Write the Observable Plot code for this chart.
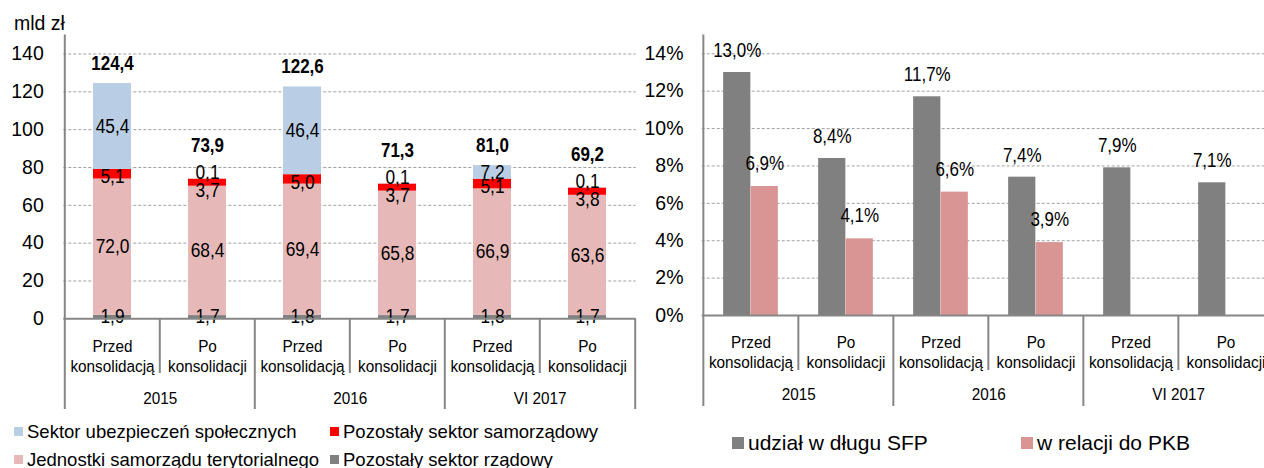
<!DOCTYPE html>
<html><head><meta charset="utf-8">
<script src="https://cdn.jsdelivr.net/npm/d3@7"></script>
<script src="https://cdn.jsdelivr.net/npm/@observablehq/plot@0.6"></script>
<style>
body{margin:0;background:#fff;}
#wrap{position:relative;width:1264px;height:468px;overflow:hidden;font-family:"Liberation Sans",Arial,sans-serif;color:#000;}
.panel{position:absolute;top:0;}
.lg{position:absolute;display:flex;align-items:center;white-space:nowrap;}
.sw{display:inline-block;margin-right:4px;}
</style></head><body><div id="wrap">
<div id="left" class="panel" style="left:0;width:640px;height:412px"></div>
<div id="right" class="panel" style="left:640px;width:624px;height:412px"></div>
<div id="unit" style="position:absolute;left:14px;top:12px;font-size:19.5px;">mld zł</div>
</div>
<script>
// ---------- data ----------
const periods = ["2015", "2016", "VI 2017"];
const barKeys = ["2015 przed", "2015 po", "2016 przed", "2016 po", "VI 2017 przed", "VI 2017 po"];
const stageNames = ["Przed\nkonsolidacją", "Po\nkonsolidacji", "Przed\nkonsolidacją", "Po\nkonsolidacji", "Przed\nkonsolidacją", "Po\nkonsolidacji"];

const seriesNames = ["Pozostały sektor rządowy", "Jednostki samorządu terytorialnego", "Pozostały sektor samorządowy", "Sektor ubezpieczeń społecznych"];
const seriesColors = ["#808080", "#E6B9B8", "#FF0000", "#B9CDE5"];
const rzadowy     = [1.9, 1.7, 1.8, 1.7, 1.8, 1.7];
const jst         = [72.0, 68.4, 69.4, 65.8, 66.9, 63.6];
const samorzadowy = [5.1, 3.7, 5.0, 3.7, 5.1, 3.8];
const ubezp       = [45.4, 0.1, 46.4, 0.1, 7.2, 0.1];
const totals      = [124.4, 73.9, 122.6, 71.3, 81.0, 69.2];
const leftTicks   = [0, 20, 40, 60, 80, 100, 120, 140];
const leftLegendOrder = ["Sektor ubezpieczeń społecznych", "Pozostały sektor samorządowy", "Jednostki samorządu terytorialnego", "Pozostały sektor rządowy"];

const rightSeries = ["udział w długu SFP", "w relacji do PKB"];
const rightColors = ["#808080", "#D99594"];
const udzialSFP   = [13.0, 8.4, 11.7, 7.4, 7.9, 7.1];
const relacjaPKB  = [6.9, 4.1, 6.6, 3.9, null, null];
const rightTicks  = [0, 2, 4, 6, 8, 10, 12, 14];

// ---------- helpers ----------
const regular = '"Liberation Sans",Arial,sans-serif';
const fmt = v => v.toFixed(1).replace(".", ",");
const gridStyle = {stroke: "#a0a0a0", strokeWidth: 1, strokeDasharray: "3,2"};
const axisStroke = "#868686";
const seriesVals = [rzadowy, jst, samorzadowy, ubezp];
const stackRows = barKeys.flatMap((k, i) => seriesNames.map((s, j) => ({
  key: k, series: s, value: seriesVals[j][i],
  // label group: thin neighbouring segments get their labels nudged apart
  grp: j === 3 && seriesVals[j][i] < 1 ? "up" : j === 2 ? (ubezp[i] < 1 ? "down2" : "down1") : "mid"
})));
const totalRows = barKeys.map((k, i) => ({key: k, total: totals[i], small: ubezp[i] < 1}));
const cats = barKeys.map((k, i) => ({key: k, stage: stageNames[i]}));
const yearRows = periods.map((p, j) => ({key: barKeys[2 * j], label: p}));

// narrow look: horizontal compression of text groups tagged via ariaDescription
function condense(svg) {
  svg.querySelectorAll('g[aria-description^="sx"]').forEach(g => {
    const s = +g.getAttribute("aria-description").slice(2);
    g.querySelectorAll("text").forEach(t => {
      const tr = t.getAttribute("transform");
      if (tr) t.setAttribute("transform", tr + ` scale(${s},1)`);
      else {
        const x = +(t.getAttribute("x") || 0), y = +(t.getAttribute("y") || 0);
        t.setAttribute("transform", `translate(${x},${y}) scale(${s},1)`);
        t.removeAttribute("x"); t.removeAttribute("y");
      }
    });
  });
}
const segLabel = (grp, dy) => Plot.text(stackRows, Plot.stackY({
  x: "key", y: "value", text: d => d.grp === grp ? fmt(d.value) : "",
  fontSize: 19.5, fill: "#000", dy, ariaDescription: "sx0.89"
}));

// ---------- left chart ----------
const L = {W: 640, H: 412, x0: 63.3, x1: 635.7, y0: 318.3, yTop: 34.6, ymax: 150};
const lStep = (L.x1 - L.x0) / barKeys.length;
const lUnit = (L.y0 - L.yTop) / L.ymax;
const lBelow = px => -px / lUnit;

const left = Plot.plot({
  width: L.W, height: L.H,
  marginLeft: L.x0, marginRight: L.W - L.x1, marginTop: L.yTop, marginBottom: L.H - L.y0,
  x: {type: "band", domain: barKeys, range: [L.x0, L.x1], paddingInner: 0.6, paddingOuter: 0.3, axis: null},
  y: {domain: [0, L.ymax], axis: null},
  color: {domain: seriesNames, range: seriesColors},
  style: {fontFamily: regular, background: "transparent", overflow: "visible"},
  marks: [
    Plot.ruleY(leftTicks.filter(t => t > 0), gridStyle),
    Plot.barY(stackRows, Plot.stackY({x: "key", y: "value", fill: "series"})),
    segLabel("mid", 0),
    segLabel("up", -6),
    segLabel("down1", 3),
    segLabel("down2", 8),
    Plot.text(totalRows.filter(d => !d.small), {x: "key", y: "total", text: d => fmt(d.total), fontSize: 19.5, fontWeight: "bold", dy: -20, ariaDescription: "sx0.87"}),
    Plot.text(totalRows.filter(d => d.small), {x: "key", y: "total", text: d => fmt(d.total), fontSize: 19.5, fontWeight: "bold", dy: -33, ariaDescription: "sx0.87"}),
    Plot.ruleY([0], {stroke: axisStroke, strokeWidth: 2}),
    Plot.ruleX([barKeys[0]], {x: d => d, dx: -lStep / 2, y1: L.ymax, y2: 0, stroke: axisStroke, strokeWidth: 2}),
    Plot.ruleX(barKeys.filter((k, i) => i % 2 === 0), {x: d => d, dx: -lStep / 2, y1: 0, y2: lBelow(90.7), stroke: axisStroke, strokeWidth: 2}),
    Plot.ruleX([barKeys[barKeys.length - 1]], {x: d => d, dx: lStep / 2, y1: 0, y2: lBelow(90.7), stroke: axisStroke, strokeWidth: 2}),
    Plot.ruleX(barKeys.filter((k, i) => i % 2 === 1), {x: d => d, dx: -lStep / 2, y1: 0, y2: lBelow(54.7), stroke: axisStroke, strokeWidth: 2}),
    Plot.text(leftTicks, {y: d => d, text: d => String(d), frameAnchor: "left", textAnchor: "end", dx: -20, fontSize: 19.5}),
    Plot.text(cats, {x: "key", text: "stage", frameAnchor: "bottom", lineAnchor: "top", dy: 18.6, fontSize: 17, lineHeight: 1.2, ariaDescription: "sx0.9"}),
    Plot.text(yearRows, {x: "key", text: "label", dx: lStep / 2, frameAnchor: "bottom", lineAnchor: "top", dy: 73.6, fontSize: 17, ariaDescription: "sx0.9"})
  ]
});
condense(left);
document.getElementById("left").appendChild(left);

// ---------- right chart ----------
const R = {off: 640, W: 624, H: 412, x0: 701.7, step: 95.3, y0: 315, yTop: 34.6, ymax: 15, barW: 27.5};
const rx0 = R.x0 - R.off;
const rx1 = rx0 + R.step * barKeys.length;
const rUnit = (R.y0 - R.yTop) / R.ymax;
const rBelow = px => -px / rUnit;
const rRows = barKeys.map((k, i) => ({key: k, sfp: udzialSFP[i], pkb: relacjaPKB[i]}));
const fmtP = v => fmt(v) + "%";

const right = Plot.plot({
  width: R.W, height: R.H,
  marginLeft: rx0, marginRight: 0, marginTop: R.yTop, marginBottom: R.H - R.y0,
  x: {type: "band", domain: barKeys, range: [rx0, rx1], padding: 0, axis: null},
  y: {domain: [0, R.ymax], axis: null},
  style: {fontFamily: regular, background: "transparent", overflow: "hidden"},
  marks: [
    Plot.ruleY(rightTicks.filter(t => t > 0), gridStyle),
    Plot.barY(rRows, {x: "key", y: "sfp", fill: rightColors[0], insetLeft: R.step / 2 - R.barW, insetRight: R.step / 2}),
    Plot.barY(rRows.filter(d => d.pkb != null), {x: "key", y: "pkb", fill: rightColors[1], insetLeft: R.step / 2, insetRight: R.step / 2 - R.barW}),
    Plot.text(rRows, {x: "key", y: "sfp", text: d => fmtP(d.sfp), dx: -R.barW / 2, dy: -22, fontSize: 20, ariaDescription: "sx0.85"}),
    Plot.text(rRows.filter(d => d.pkb != null), {x: "key", y: "pkb", text: d => fmtP(d.pkb), dx: R.barW / 2, dy: -23, fontSize: 20, ariaDescription: "sx0.85"}),
    Plot.ruleY([0], {stroke: axisStroke, strokeWidth: 2}),
    Plot.ruleX([barKeys[0]], {x: d => d, dx: -R.step / 2, y1: R.ymax, y2: 0, stroke: axisStroke, strokeWidth: 2}),
    Plot.ruleX(barKeys.filter((k, i) => i % 2 === 0), {x: d => d, dx: -R.step / 2, y1: 0, y2: rBelow(91), stroke: axisStroke, strokeWidth: 2}),
    Plot.ruleX(barKeys.filter((k, i) => i % 2 === 1), {x: d => d, dx: -R.step / 2, y1: 0, y2: rBelow(55), stroke: axisStroke, strokeWidth: 2}),
    Plot.text(rightTicks, {y: d => d, text: d => d + "%", frameAnchor: "left", textAnchor: "end", dx: -18.7, fontSize: 19.5}),
    Plot.text(cats, {x: "key", text: "stage", frameAnchor: "bottom", lineAnchor: "top", dy: 17.9, fontSize: 17, lineHeight: 1.2, ariaDescription: "sx0.9"}),
    Plot.text(yearRows, {x: "key", text: "label", dx: R.step / 2, frameAnchor: "bottom", lineAnchor: "top", dy: 72.9, fontSize: 17, ariaDescription: "sx0.9"})
  ]
});
condense(right);
document.getElementById("right").appendChild(right);

// ---------- legends ----------
const wrap = document.getElementById("wrap");
function legendItem(label, color, left, cy, size, fs) {
  const d = document.createElement("div");
  d.className = "lg";
  d.style.left = left + "px";
  d.style.top = (cy - fs * 0.6) + "px";
  d.style.height = (fs * 1.2) + "px";
  d.style.fontSize = fs + "px";
  const s = document.createElement("span");
  s.className = "sw";
  s.style.width = size + "px"; s.style.height = size + "px"; s.style.background = color;
  d.appendChild(s);
  d.appendChild(document.createTextNode(label));
  wrap.appendChild(d);
}
const colorOf = n => seriesColors[seriesNames.indexOf(n)];
const legPos = [[14, 432], [330, 432], [14, 460], [330, 460]];
leftLegendOrder.forEach((n, i) => legendItem(n, colorOf(n), legPos[i][0], legPos[i][1], 9, 18.5));
legendItem(rightSeries[0], rightColors[0], 732, 442.7, 12, 21);
legendItem(rightSeries[1], rightColors[1], 1021, 442.7, 12, 21);
</script>
</body></html>
